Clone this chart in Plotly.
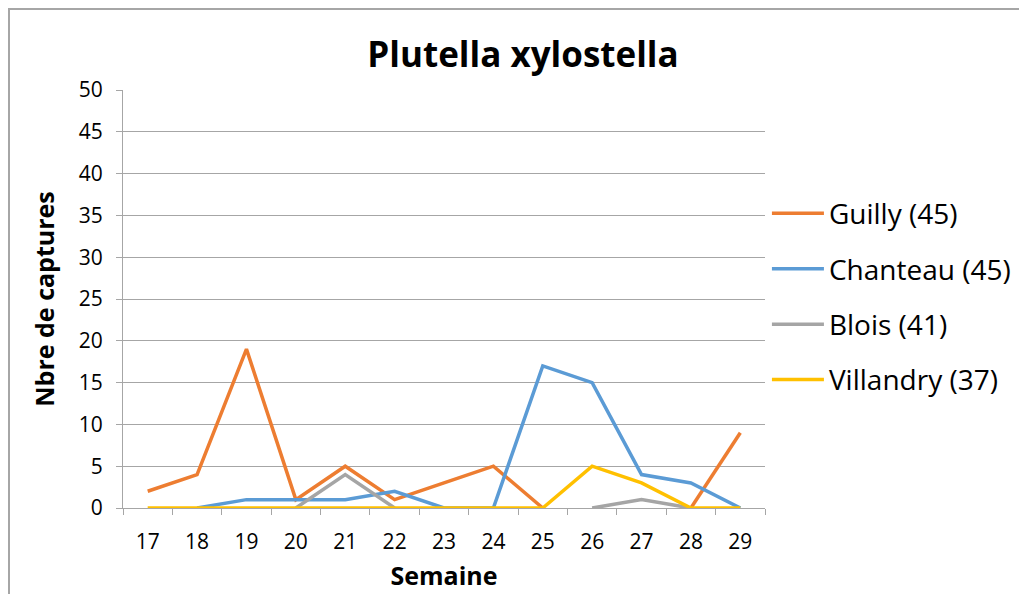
import plotly.graph_objects as go

weeks = ["17", "18", "19", "20", "21", "22", "23", "24", "25", "26", "27", "28", "29"]
guilly = [2, 4, 19, 1, 5, 1, 3, 5, 0, None, None, 0, 9]
chanteau = [None, 0, 1, 1, 1, 2, 0, 0, 17, 15, 4, 3, 0]
blois = [None, None, None, 0, 4, 0, None, None, None, 0, 1, 0, None]
villandry = [0, 0, 0, 0, 0, 0, 0, 0, 0, 5, 3, 0, 0]

series = [
    ("Guilly (45)", guilly, "#ED7D31"),
    ("Chanteau (45)", chanteau, "#5B9BD5"),
    ("Blois (41)", blois, "#A5A5A5"),
    ("Villandry (37)", villandry, "#FFC000"),
]

FONT = "'Open Sans', Lato, sans-serif"
L, T, PW, PH = 115, 82, 642, 418
W, H = 1027, 594

fig = go.Figure()
for i, (name, vals, col) in enumerate(series):
    fig.add_trace(go.Scatter(
        x=weeks, y=vals, name=name, mode="lines",
        line=dict(color=col, width=3.5),
        connectgaps=False, legendgroup=f"g{i}",
    ))

fig.update_layout(
    width=W, height=H,
    margin=dict(l=L, r=W - L - PW, t=T, b=H - T - PH),
    paper_bgcolor="white", plot_bgcolor="white",
    font=dict(family=FONT, color="#000000"),
    title=dict(text="<b>Plutella xylostella</b>", x=515 / W, xref="container", xanchor="center",
               y=1 - 47 / H, yref="container", yanchor="middle",
               font=dict(size=35, family=FONT, color="#000000")),
    showlegend=True,
    legend=dict(x=1.003, xanchor="left", y=0.764, yanchor="top",
                font=dict(size=28, family=FONT, color="#000000"),
                tracegroupgap=16, itemwidth=52, bgcolor="rgba(0,0,0,0)"),
)

fig.update_xaxes(
    type="category", range=[-0.5, 12.5],
    showline=True, linecolor="#A6A6A6", linewidth=1,
    ticks="outside", ticklen=6, tickcolor="#A6A6A6",
    tickmode="array", tickvals=weeks, ticktext=weeks,
    tickson="boundaries", ticklabelstandoff=15,
    showgrid=False, zeroline=False,
    tickfont=dict(size=21, family=FONT, color="#000000"),
    title=dict(text="<b>Semaine</b>", font=dict(size=25, family=FONT, color="#000000"), standoff=13),
)
fig.update_yaxes(
    range=[0, 50], dtick=5, tick0=0,
    showline=True, linecolor="#A6A6A6", linewidth=1,
    ticks="outside", ticklen=6, tickcolor="#A6A6A6",
    ticklabelstandoff=9,
    showgrid=True, gridcolor="#A6A6A6", gridwidth=1, zeroline=False,
    tickfont=dict(size=21, family=FONT, color="#000000"),
    title=dict(text="<b>Nbre de captures</b>", font=dict(size=25, family=FONT, color="#000000"), standoff=17),
)

# outer chart frame
fig.add_shape(type="rect", xref="paper", yref="paper",
              x0=(-L + 1) / PW, x1=1.5, y0=-0.5, y1=1 + (T - 1) / PH,
              line=dict(color="#A6A6A6", width=2), fillcolor="rgba(0,0,0,0)", layer="below")

fig.write_html("out.html")
